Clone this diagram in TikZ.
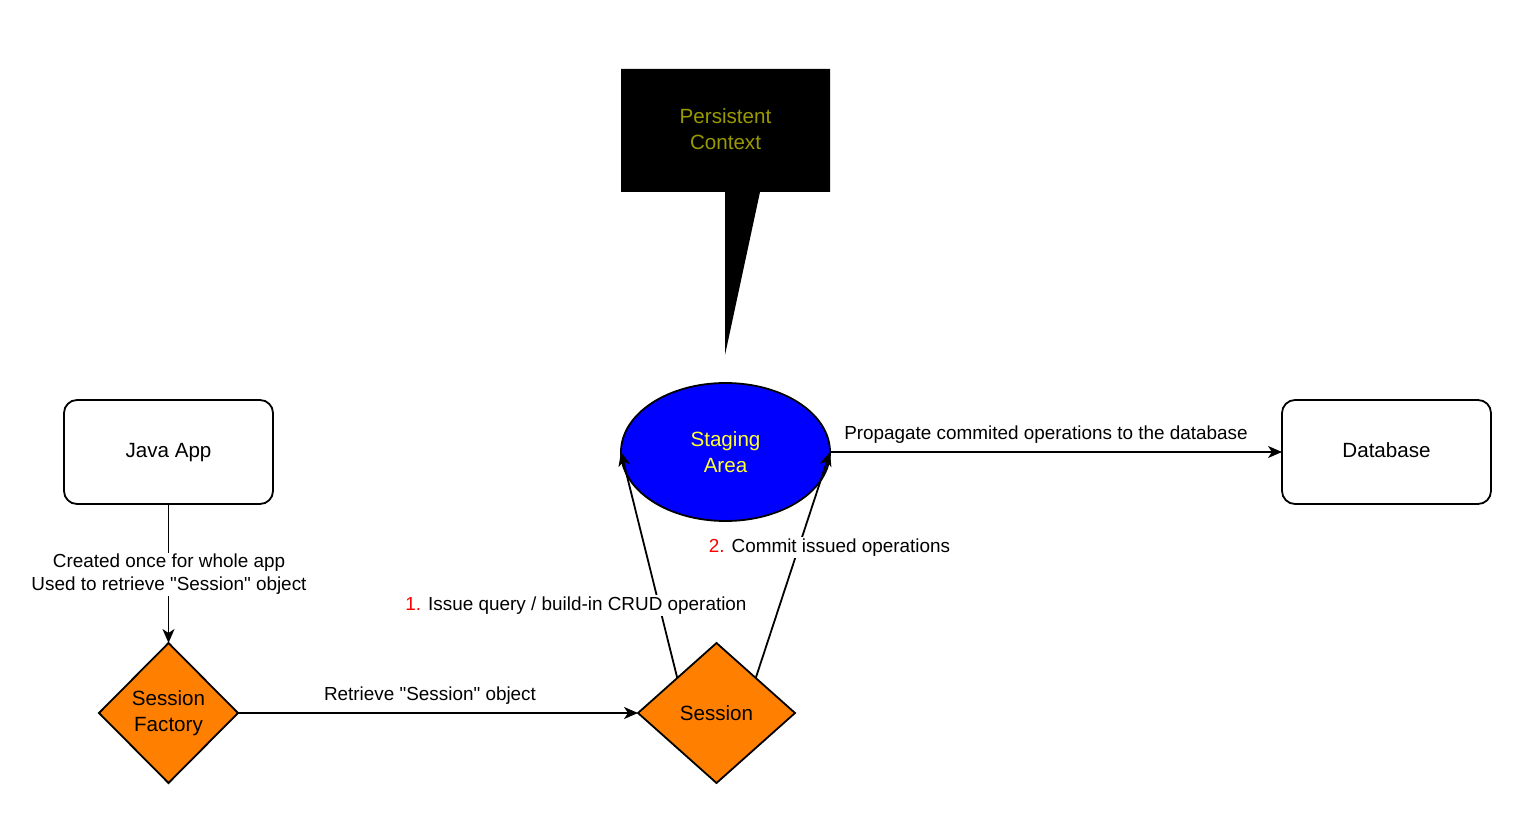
\documentclass[tikz,border=0pt]{standalone}
\usepackage{fontspec}
\setmainfont{Liberation Sans}[Ligatures=TeXOff]
\usetikzlibrary{shapes.geometric,arrows.meta}
\definecolor{olivetxt}{HTML}{999900}
\definecolor{stageblue}{HTML}{0000FF}
\definecolor{stageyellow}{HTML}{FFFF33}
\definecolor{diaorange}{HTML}{FF8000}
\definecolor{numred}{HTML}{FF0000}
\newcommand\myNodeFont{\fontsize{20.6}{26}\selectfont}
\newcommand\myLblFont{\fontsize{18.9}{23}\selectfont}
\begin{document}
\begin{tikzpicture}[x=1pt,y=-1pt,
  conn/.style={line width=1.8pt,-{Stealth[length=14pt,width=12pt,inset=4pt]}},
  box/.style={draw,line width=1.8pt,rounded corners=13pt,minimum width=209pt,minimum height=104pt,inner sep=0pt,outer sep=0pt,font=\myNodeFont,align=center},
  dia/.style={diamond,draw,line width=1.8pt,fill=diaorange,inner sep=0pt,outer sep=0pt,font=\myNodeFont,align=center},
  lbl/.style={font=\myLblFont,align=center,inner sep=1.5pt,fill=white},
  stage/.style={ellipse,draw,line width=1.8pt,fill=stageblue,text=stageyellow,minimum width=209pt,minimum height=138pt,inner sep=0pt,outer sep=0pt,font=\myNodeFont,align=center},
  callouttxt/.style={text=olivetxt,font=\myNodeFont,align=center}
]
\useasboundingbox (0,0) rectangle (1517,834);
% callout
\fill[black] (621,69) -- (830,69) -- (830,192) -- (760,192) -- (725,355) -- (725,192) -- (621,192) -- cycle;
\node[callouttxt] (pc) at (725.5,129) {Persistent\\Context};
% nodes
\node[box,text height=15pt,text depth=4pt] (java) at (168.5,452) {Java App};
\node[box,text height=15pt,text depth=4pt] (db) at (1386.5,452) {Database};
\node[stage] (stg) at (725.5,452) {Staging\\Area};
\node[dia,minimum width=139pt,minimum height=140pt] (sf) at (168.5,713) {Session\\Factory};
\node[dia,minimum width=157pt,minimum height=140pt] (ses) at (716.5,713) {Session};
% connectors
\draw[conn] (java) -- (sf);
\draw[conn] (sf.east) -- (ses.west);
\draw[conn] (ses.north west) -- (stg.west);
\draw[conn] (ses.north east) -- (stg.east);
\draw[conn] (stg.east) -- (db.west);
% labels
\node[lbl] (l1) at (169,574.5) {Created once for whole app\\Used to retrieve "Session" object};
\node[lbl] (l2) at (430,695.5) {Retrieve "Session" object};
\node[lbl] (l3) at (576,605.5) {\textcolor{numred}{1.} Issue query / build-in CRUD operation};
\node[lbl] (l4) at (829.5,547.5) {\textcolor{numred}{2.} Commit issued operations};
\node[lbl] (l5) at (1046,434.5) {Propagate commited operations to the database};
\end{tikzpicture}
\end{document}
